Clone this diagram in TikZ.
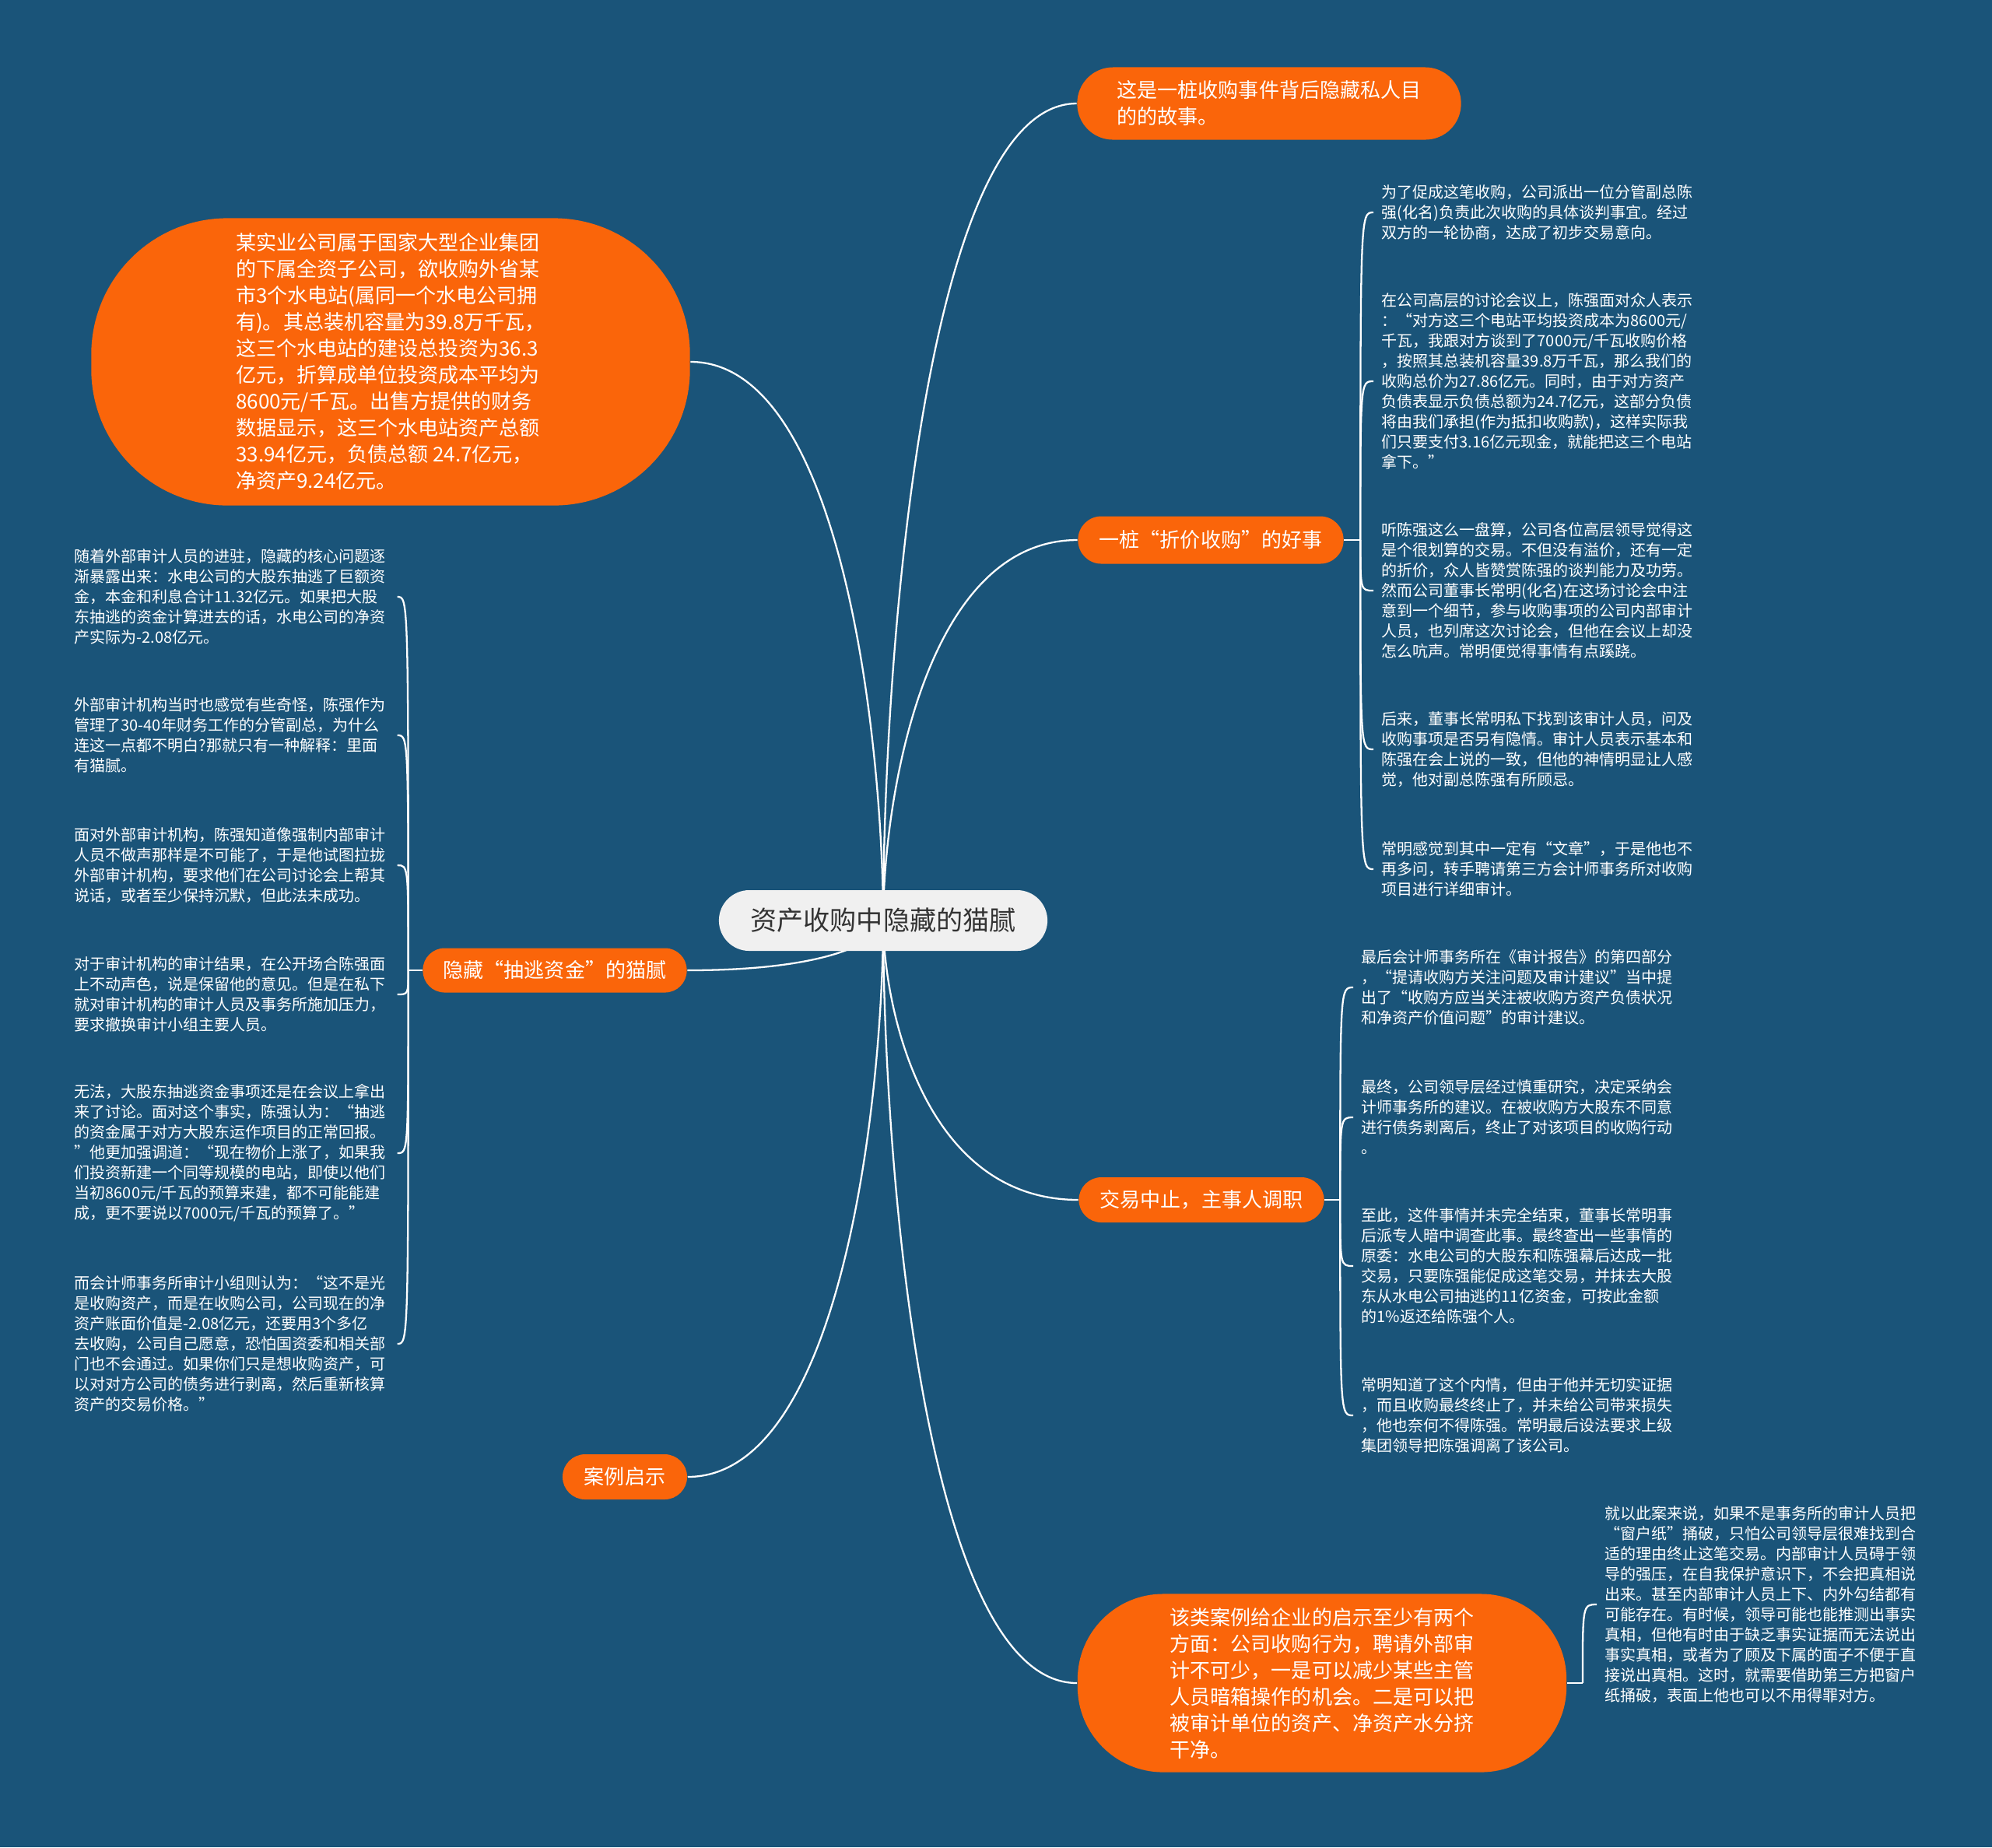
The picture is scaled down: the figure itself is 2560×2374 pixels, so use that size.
\documentclass[tikz,border=0pt]{standalone}
\usepackage{fontspec}
\setmainfont{Noto Sans CJK SC}
\usepackage{tikz}
\usetikzlibrary{calc}
\definecolor{bgblue}{HTML}{1A5479}
\definecolor{mmorange}{HTML}{FA650A}
\definecolor{rootgray}{HTML}{F0F0F0}
\definecolor{roottext}{HTML}{333333}
\pgfdeclarelayer{back}
\pgfdeclarelayer{wires}
\pgfsetlayers{back,wires,main}

\begin{document}
\begin{tikzpicture}[
	x=0.01cm, y=-0.01cm,
	root/.style={rectangle, fill=rootgray, text=roottext, rounded corners=0.39cm,
		minimum width=4.22cm, minimum height=0.78cm, font=\fontsize{9.7pt}{11pt}\selectfont},
	topic/.style={rectangle, fill=mmorange, text=white, rounded corners=0.29cm,
		minimum height=0.58cm, inner sep=0pt, font=\fontsize{7.4pt}{9.67pt}\selectfont},
	bigtopic/.style={topic, align=left},
	leaf/.style={text=white, text width=4.03cm, align=left, inner sep=0pt, anchor=west,
		font=\fontsize{5.69pt}{7.4pt}\selectfont},
	wire/.style={draw=white, line width=0.65pt}
	]
	\begin{pgfonlayer}{back}
		\fill[bgblue] (0,0) rectangle (2560,2374);
	\end{pgfonlayer}
	
	% --- Centre ---
	\node[root] (root) at (1135,1183) {资产收购中隐藏的猫腻};
	
	% --- Right topics ---
	\node[bigtopic, minimum width=4.93cm, minimum height=0.93cm, rounded corners=0.46cm] (story) at (1631,133)
		{这是一桩收购事件背后隐藏私人目\\的的故事。};
	\node[topic, minimum width=3.41cm, minimum height=0.61cm, rounded corners=0.3cm] (deal) at (1556,694) {一桩“折价收购”的好事};
	\node[topic, minimum width=3.15cm] (halt) at (1544,1542) {交易中止，主事人调职};
	\node[bigtopic, minimum width=6.28cm, minimum height=2.29cm, rounded corners=1.1cm] (insight) at (1699,2163)
		{该类案例给企业的启示至少有两个\\方面：公司收购行为，聘请外部审\\计不可少，一是可以减少某些主管\\人员暗箱操作的机会。二是可以把\\被审计单位的资产、净资产水分挤\\干净。};
	
	% --- Left topics ---
	\node[bigtopic, minimum width=7.69cm, minimum height=3.69cm, rounded corners=1.75cm] (buyer) at (502,465)
		{某实业公司属于国家大型企业集团\\的下属全资子公司，欲收购外省某\\市3个水电站(属同一个水电公司拥\\有)。其总装机容量为39.8万千瓦，\\这三个水电站的建设总投资为36.3\\亿元，折算成单位投资成本平均为\\8600元/千瓦。出售方提供的财务\\数据显示，这三个水电站资产总额\\33.94亿元，负债总额 24.7亿元，\\净资产9.24亿元。};
	\node[topic, minimum width=3.39cm, minimum height=0.57cm, rounded corners=0.28cm] (hide) at (713,1247) {隐藏“抽逃资金”的猫腻};
	\node[topic, minimum width=1.60cm] (lesson) at (803,1898) {案例启示};
	
	% --- Leaves of "deal" ---
	\node[leaf] (deal1) at (1775,273) {为了促成这笔收购，公司派出一位分管副总陈\\强(化名)负责此次收购的具体谈判事宜。经过\\双方的一轮协商，达成了初步交易意向。};
	\node[leaf] (deal2) at (1775,490) {在公司高层的讨论会议上，陈强面对众人表示\\：“对方这三个电站平均投资成本为8600元/\\千瓦，我跟对方谈到了7000元/千瓦收购价格\\，按照其总装机容量39.8万千瓦，那么我们的\\收购总价为27.86亿元。同时，由于对方资产\\负债表显示负债总额为24.7亿元，这部分负债\\将由我们承担(作为抵扣收购款)，这样实际我\\们只要支付3.16亿元现金，就能把这三个电站\\拿下。”};
	\node[leaf] (deal3) at (1775,759) {听陈强这么一盘算，公司各位高层领导觉得这\\是个很划算的交易。不但没有溢价，还有一定\\的折价，众人皆赞赏陈强的谈判能力及功劳。\\然而公司董事长常明(化名)在这场讨论会中注\\意到一个细节，参与收购事项的公司内部审计\\人员，也列席这次讨论会，但他在会议上却没\\怎么吭声。常明便觉得事情有点蹊跷。};
	\node[leaf] (deal4) at (1775,963) {后来，董事长常明私下找到该审计人员，问及\\收购事项是否另有隐情。审计人员表示基本和\\陈强在会上说的一致，但他的神情明显让人感\\觉，他对副总陈强有所顾忌。};
	\node[leaf] (deal5) at (1775,1117) {常明感觉到其中一定有“文章”，于是他也不\\再多问，转手聘请第三方会计师事务所对收购\\项目进行详细审计。};
	
	% --- Leaves of "halt" ---
	\node[leaf] (halt1) at (1749,1269) {最后会计师事务所在《审计报告》的第四部分\\，“提请收购方关注问题及审计建议”当中提\\出了“收购方应当关注被收购方资产负债状况\\和净资产价值问题”的审计建议。};
	\node[leaf] (halt2) at (1749,1436) {最终，公司领导层经过慎重研究，决定采纳会\\计师事务所的建议。在被收购方大股东不同意\\进行债务剥离后，终止了对该项目的收购行动\\。};
	\node[leaf] (halt3) at (1749,1627) {至此，这件事情并未完全结束，董事长常明事\\后派专人暗中调查此事。最终查出一些事情的\\原委：水电公司的大股东和陈强幕后达成一批\\交易，只要陈强能促成这笔交易，并抹去大股\\东从水电公司抽逃的11亿资金，可按此金额\\的1\%返还给陈强个人。};
	\node[leaf] (halt4) at (1749,1819) {常明知道了这个内情，但由于他并无切实证据\\，而且收购最终终止了，并未给公司带来损失\\，他也奈何不得陈强。常明最后设法要求上级\\集团领导把陈强调离了该公司。};
	
	% --- Leaf of "insight" ---
	\node[leaf] (insight1) at (2062,2062) {就以此案来说，如果不是事务所的审计人员把\\“窗户纸”捅破，只怕公司领导层很难找到合\\适的理由终止这笔交易。内部审计人员碍于领\\导的强压，在自我保护意识下，不会把真相说\\出来。甚至内部审计人员上下、内外勾结都有\\可能存在。有时候，领导可能也能推测出事实\\真相，但他有时由于缺乏事实证据而无法说出\\事实真相，或者为了顾及下属的面子不便于直\\接说出真相。这时，就需要借助第三方把窗户\\纸捅破，表面上他也可以不用得罪对方。};
	
	% --- Leaves of "hide" ---
	\node[leaf] (hide1) at (95,767) {随着外部审计人员的进驻，隐藏的核心问题逐\\渐暴露出来：水电公司的大股东抽逃了巨额资\\金，本金和利息合计11.32亿元。如果把大股\\东抽逃的资金计算进去的话，水电公司的净资\\产实际为-2.08亿元。};
	\node[leaf] (hide2) at (95,945) {外部审计机构当时也感觉有些奇怪，陈强作为\\管理了30-40年财务工作的分管副总，为什么\\连这一点都不明白?那就只有一种解释：里面\\有猫腻。};
	\node[leaf] (hide3) at (95,1112) {面对外部审计机构，陈强知道像强制内部审计\\人员不做声那样是不可能了，于是他试图拉拢\\外部审计机构，要求他们在公司讨论会上帮其\\说话，或者至少保持沉默，但此法未成功。};
	\node[leaf] (hide4) at (95,1278) {对于审计机构的审计结果，在公开场合陈强面\\上不动声色，说是保留他的意见。但是在私下\\就对审计机构的审计人员及事务所施加压力，\\要求撤换审计小组主要人员。};
	\node[leaf] (hide5) at (95,1482) {无法，大股东抽逃资金事项还是在会议上拿出\\来了讨论。面对这个事实，陈强认为：“抽逃\\的资金属于对方大股东运作项目的正常回报。\\”他更加强调道：“现在物价上涨了，如果我\\们投资新建一个同等规模的电站，即使以他们\\当初8600元/千瓦的预算来建，都不可能能建\\成，更不要说以7000元/千瓦的预算了。”};
	\node[leaf] (hide6) at (95,1727) {而会计师事务所审计小组则认为：“这不是光\\是收购资产，而是在收购公司，公司现在的净\\资产账面价值是-2.08亿元，还要用3个多亿\\去收购，公司自己愿意，恐怕国资委和相关部\\门也不会通过。如果你们只是想收购资产，可\\以对对方公司的债务进行剥离，然后重新核算\\资产的交易价格。”};
	
	% --- Connectors ---
	\begin{pgfonlayer}{wires}
		\foreach \t in {story, deal, halt, insight}
			\draw[wire] (root.center) .. controls ($(root.center)!0.3!(root.center |- \t.west)$)
				and ($(\t.west)!0.8!(root.center |- \t.west)$) .. (\t.west);
		\foreach \t in {buyer, hide, lesson}
			\draw[wire] (root.center) .. controls ($(root.center)!0.3!(root.center |- \t.east)$)
				and ($(\t.east)!0.8!(root.center |- \t.east)$) .. (\t.east);
		
		\draw[wire] (deal.east) -- ++(21,0) coordinate (jdeal);
		\foreach \l in {deal1, deal2, deal3, deal4, deal5}
			\draw[wire] (jdeal) .. controls (jdeal |- \l.west) .. ($(\l.west)+(-10,0)$);
		\draw[wire] (halt.east) -- ++(20,0) coordinate (jhalt);
		\foreach \l in {halt1, halt2, halt3, halt4}
			\draw[wire] (jhalt) .. controls (jhalt |- \l.west) .. ($(\l.west)+(-10,0)$);
		\draw[wire] (insight.east) -- ++(20,0) coordinate (jinsight);
		\draw[wire] (jinsight) .. controls (jinsight |- insight1.west) .. ($(insight1.west)+(-10,0)$);
		\draw[wire] (hide.west) -- ++(-18,0) coordinate (jhide);
		\foreach \l in {hide1, hide2, hide3, hide4, hide5, hide6}
			\draw[wire] (jhide) .. controls (jhide |- \l.east) .. ($(\l.east)+(11,0)$);
	\end{pgfonlayer}
\end{tikzpicture}
\end{document}
